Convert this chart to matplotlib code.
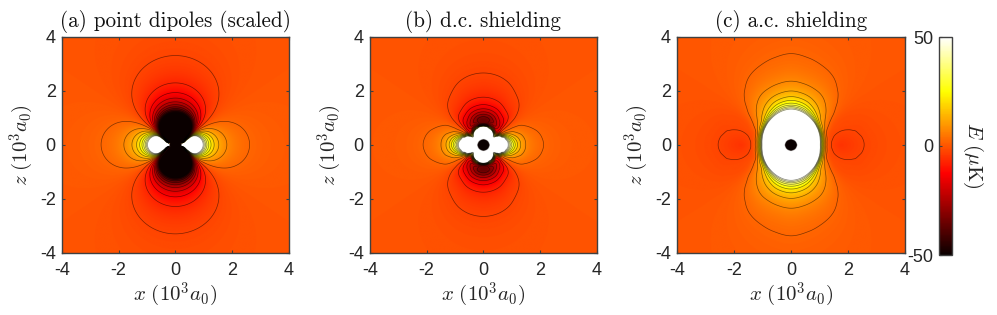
import numpy as np
import matplotlib
matplotlib.use("Agg")
import matplotlib.pyplot as plt
import matplotlib.tri as mtri
from matplotlib.colors import LinearSegmentedColormap

plt.rcParams.update({
    "font.family": ["Liberation Sans", "DejaVu Sans"],
    "mathtext.fontset": "cm",
    "axes.unicode_minus": False,
    "contour.negative_linestyle": "solid",
})

# Values: E * r^3 (uK * (10^3 a0)^3),
# rows = radius r, columns = angle from the z axis.
ANGLES = [0, 10, 20, 30, 40, 50, 60, 70, 80, 90]

RADII_A = [0.22, 0.35, 0.5, 0.7, 1.0, 6.0]
MOMENT_A = [
    [-25, -20, -15, -10, -5, -2, -1, -0.5, 0.8, 1],
    [-70, -60, -45, -30, -15, -5, -2, 1.5, 3.5, 4],
    [-85, -80, -70, -53, -32, -10, 2, 10, 17, 20],
    [-90, -85.9, -74.2, -56.3, -34.2, -10.8, 11.3, 29.2, 40.9, 45],
    [-90, -85.9, -74.2, -56.3, -34.2, -10.8, 11.3, 29.2, 40.9, 45],
    [-90, -85.9, -74.2, -56.3, -34.2, -10.8, 11.3, 29.2, 40.9, 45],
]

RADII_B = [0.22, 0.35, 0.55, 0.68, 0.78, 0.9, 1.05, 1.25, 1.5, 1.8, 2.2, 2.7, 3.5, 6.0]
MOMENT_B = [
    [1, 1, 1, 1, 0.8, 0.6, 0.5, 0.7, 1, 1],
    [4, 4, 3.5, 3.5, 4, 3, 2.5, 3, 4, 4],
    [13, 13, 12, 14, 7, 4, 11, 13, 13, 13],
    [16, 14, 8, 2, -4, -1, 12, 20, 23, 25],
    [-14, -13, -8, -10, -8, -3, 5, 22, 28, 32],
    [-26, -25, -21, -17, -12, -3, 5, 18, 29, 32],
    [-37, -35, -29, -22, -16, -4, 5, 17, 28, 33],
    [-41, -39, -34, -26, -19, -5, 6, 16, 26, 30],
    [-41, -39, -34.5, -26.5, -19, -6, 7, 16, 23, 25],
    [-41, -39.5, -35, -27, -19, -6, 6, 15, 22, 24],
    [-44, -42, -37, -28, -18.5, -5.6, 6, 15, 21.5, 24],
    [-47, -45, -39, -29.5, -18, -5.6, 6, 15, 21.5, 23.6],
    [-47, -45, -39, -29.5, -18, -5.6, 6, 15, 21.5, 23.6],
    [-47, -45, -39, -29.5, -18, -5.6, 6, 15, 21.5, 23.6],
]

RADII_C = [0.22, 0.45, 0.7, 0.9, 1.05, 1.2, 1.35, 1.5, 1.8, 2.2, 2.7, 3.4, 4.5, 6.0]
MOMENT_C = [
    [1.06, 1.06, 1.06, 1.06, 1.06, 1.06, 1.06, 1.06, 1.06, 1.06],
    [9, 9, 9, 9, 9, 9, 9, 9, 9, 9],
    [34, 34, 34, 34, 34, 34, 34, 34, 34, 34],
    [73, 73, 73, 73, 73, 73, 73, 73, 73, 73],
    [116, 115, 113, 105, 98, 88, 72, 60, 50, 45],
    [110, 108, 100, 88, 72, 52, 36, 24, 17, 13],
    [108, 103, 92, 75, 54, 33, 20, 3, -1.5, -3],
    [101, 97, 86, 68, 48, 30, 11, -3.5, -8.4, -11],
    [99, 94, 84, 68, 50, 26, -2, -11, -20, -28],
    [98, 93, 84, 72, 50, 16, -11, -20, -31, -38.5],
    [97, 90, 81, 66, 39, 11, -15, -30, -38, -43],
    [96, 88, 75, 58, 34, 10, -14, -31, -41, -45],
    [94, 87, 74, 56, 33, 10, -12, -30, -41, -45],
    [92, 86, 74, 56, 34, 10.8, -11, -29, -41, -45],
]

TITLES = ["(a) point dipoles (scaled)", "(b) d.c. shielding", "(c) a.c. shielding"]
X_TICKS = [-4, -2, 0, 2, 4]
Z_TICKS = [-4, -2, 0, 2, 4]
BAR_TICKS = [-50, 0, 50]
LEVELS = [-47.5, -42.5, -37.5, -32.5, -27.5, -22.5, -17.5, -12.5, -7.5, -2.5,
          2.5, 7.5, 12.5, 17.5, 22.5, 27.5, 32.5, 37.5, 42.5, 47.5]
CORE_RADIUS = 0.21

HOT = LinearSegmentedColormap("hot_m", {
    "red": [(0, 0.0417, 0.0417), (0.375, 1, 1), (1, 1, 1)],
    "green": [(0, 0, 0), (0.375, 0, 0), (0.75, 1, 1), (1, 1, 1)],
    "blue": [(0, 0, 0), (0.75, 0, 0), (1, 1, 1)],
}, N=256)


def field(radii, table, X, Z):
    table = np.asarray(table, float)
    th = np.radians(np.r_[-30, -20, -10, ANGLES, 100, 110, 120])
    tab = np.c_[table[:, [3, 2, 1]], table, table[:, [8, 7, 6]]]
    lr = np.log(radii)
    n_r, n_t = tab.shape
    L, T = np.meshgrid(lr, th, indexing="ij")
    tris = []
    for i in range(n_r - 1):
        for j in range(n_t - 1):
            a = i * n_t + j
            tris += [[a, a + 1, a + n_t], [a + 1, a + n_t + 1, a + n_t]]
    tr = mtri.Triangulation(L.ravel(), T.ravel(), tris)
    interp = mtri.CubicTriInterpolator(tr, tab.ravel(), kind="geom")
    r = np.hypot(X, Z)
    rc = np.clip(r, radii[0], radii[-1])
    ang = np.arctan2(np.abs(X), np.abs(Z))
    M = np.ma.filled(interp(np.log(rc), ang), 0.0)
    return M / rc ** 3, r


W, H = 997.0, 315.0
def box(l, r, t, b):
    return [l / W, 1 - b / H, (r - l) / W, (b - t) / H]

fig = plt.figure(figsize=(9.97, 3.15), dpi=100)
frames = [(62, 288.7), (370, 596.7), (677.3, 905)]
tables = [(RADII_A, MOMENT_A), (RADII_B, MOMENT_B), (RADII_C, MOMENT_C)]

g = np.linspace(-4, 4, 640)
X, Z = np.meshgrid(g, g)
SP = "#404040"
TC = "#262626"
for (l, r_), (rad, tab), title in zip(frames, tables, TITLES):
    ax = fig.add_axes(box(l, r_, 36.7, 252.7))
    E, r = field(rad, tab, X, Z)
    shown = E.copy()
    shown[r < CORE_RADIUS] = -100
    im = ax.imshow(shown, origin="lower", extent=[-4, 4, -4, 4], cmap=HOT,
                   vmin=-50, vmax=50, aspect="auto", interpolation="bilinear")
    ax.contour(X, Z, np.ma.masked_where(r < CORE_RADIUS * 1.05, E), levels=LEVELS,
               colors="#000000", linewidths=0.5, alpha=0.5)
    ax.set_xlim(-4, 4)
    ax.set_ylim(-4, 4)
    ax.set_xticks(X_TICKS)
    ax.set_yticks(Z_TICKS)
    ax.tick_params(direction="in", top=True, right=True, length=2.5, width=0.8,
                   color=SP, labelcolor=TC, labelsize=13)
    ax.tick_params(axis="x", pad=7)
    ax.tick_params(axis="y", pad=4.5)
    for s in ax.spines.values():
        s.set_color(SP)
        s.set_linewidth(1.0)
    ax.set_xlabel(r"$x\ (10^3 a_0)$", fontsize=15, color=TC, labelpad=1)
    ax.set_ylabel(r"$z\ (10^3 a_0)$", fontsize=15, color=TC, labelpad=3)
    ax.set_title(title, fontsize=15.2, family="cmr10", color="#111111", pad=7)

cax = fig.add_axes(box(938.7, 951.7, 37, 255))
cb = fig.colorbar(im, cax=cax)
cb.set_ticks(BAR_TICKS)
cb.ax.yaxis.set_ticks_position("left")
cb.ax.tick_params(direction="in", length=2.5, width=0.8, color=SP, labelcolor=TC,
                  labelsize=13, pad=4)
cb.outline.set_edgecolor(SP)
cb.outline.set_linewidth(1.0)
fig.text(973 / W, 1 - 155 / H, r"$E\ (\mu{\rm K})$", fontsize=15, rotation=270,
         ha="center", va="center", color=TC)

fig.savefig("out.png", dpi=100)
